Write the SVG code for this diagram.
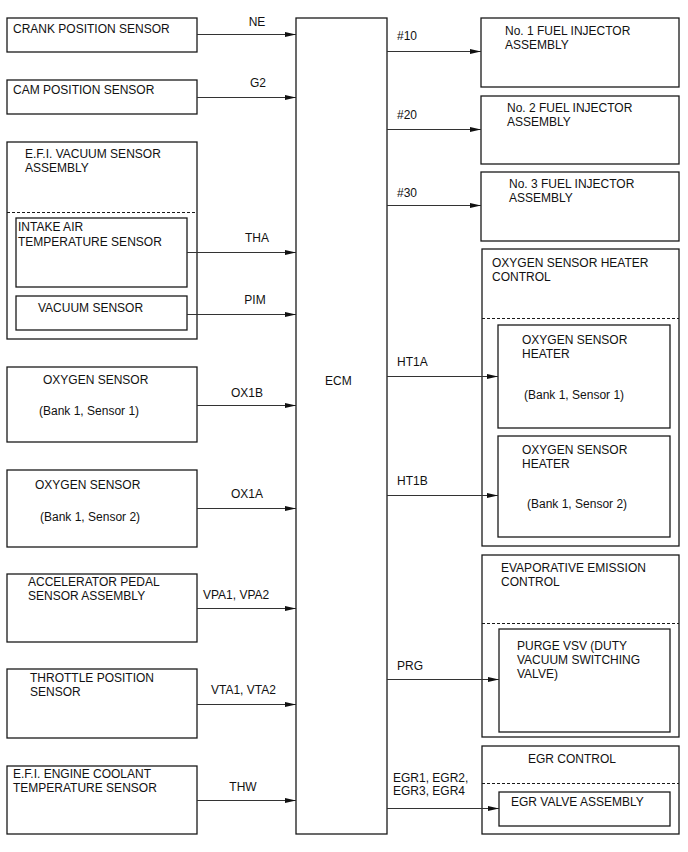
<svg xmlns="http://www.w3.org/2000/svg" width="688" height="852" viewBox="0 0 688 852">
<defs>
<marker id="ah" markerWidth="11" markerHeight="6" refX="11" refY="3" orient="auto" markerUnits="userSpaceOnUse">
<path d="M0,0.5 L11,3 L0,5.5 z" fill="#111"/>
</marker>
</defs>
<style>
.box{fill:#fff;stroke:#1a1a1a;stroke-width:1.3}
.dash{fill:none;stroke:#1a1a1a;stroke-width:1.2;stroke-dasharray:3 2}
.t{font-family:"Liberation Sans",Arial,sans-serif;font-size:12px;fill:#111}
.c{fill:none;stroke:#333;stroke-width:1.1;marker-end:url(#ah)}
</style>
<rect width="688" height="852" fill="#fff"/>

<g id="crank"><rect class="box" x="7" y="18" width="190" height="34"/><text class="t" x="13" y="33">CRANK POSITION SENSOR</text></g>
<g id="cam"><rect class="box" x="7" y="80" width="190" height="34"/><text class="t" x="13" y="94">CAM POSITION SENSOR</text></g>
<g id="efi-vacuum"><rect class="box" x="7" y="142" width="190" height="197"/><text class="t" x="25" y="158">E.F.I. VACUUM SENSOR</text><text class="t" x="25" y="172">ASSEMBLY</text><line class="dash" x1="7" y1="212.5" x2="197" y2="212.5"/></g>
<g id="intake-air"><rect class="box" x="16" y="218" width="171" height="69"/><text class="t" x="18" y="231">INTAKE AIR</text><text class="t" x="18" y="246">TEMPERATURE SENSOR</text></g>
<g id="vacuum"><rect class="box" x="16" y="296" width="171" height="34"/><text class="t" x="38" y="312">VACUUM SENSOR</text></g>
<g id="o2s1"><rect class="box" x="7" y="367" width="190" height="75"/><text class="t" x="43" y="384">OXYGEN SENSOR</text><text class="t" x="39" y="415">(Bank 1, Sensor 1)</text></g>
<g id="o2s2"><rect class="box" x="7" y="470" width="190" height="77"/><text class="t" x="35" y="489">OXYGEN SENSOR</text><text class="t" x="40" y="521">(Bank 1, Sensor 2)</text></g>
<g id="accel"><rect class="box" x="7" y="574" width="190" height="68"/><text class="t" x="28" y="586">ACCELERATOR PEDAL</text><text class="t" x="28" y="600">SENSOR ASSEMBLY</text></g>
<g id="throttle"><rect class="box" x="7" y="669" width="190" height="69"/><text class="t" x="30" y="682">THROTTLE POSITION</text><text class="t" x="30" y="696">SENSOR</text></g>
<g id="coolant"><rect class="box" x="7" y="766" width="190" height="68"/><text class="t" x="13" y="778">E.F.I. ENGINE COOLANT</text><text class="t" x="13" y="792">TEMPERATURE SENSOR</text></g>

<g id="ecm"><rect class="box" x="296" y="18" width="91" height="816"/><text class="t" x="325" y="385">ECM</text></g>

<g id="inj1"><rect class="box" x="481" y="18" width="198" height="69"/><text class="t" x="505" y="35">No. 1 FUEL INJECTOR</text><text class="t" x="505" y="49">ASSEMBLY</text></g>
<g id="inj2"><rect class="box" x="481" y="96" width="198" height="68"/><text class="t" x="507" y="112">No. 2 FUEL INJECTOR</text><text class="t" x="507" y="126">ASSEMBLY</text></g>
<g id="inj3"><rect class="box" x="481" y="172" width="198" height="69"/><text class="t" x="509" y="188">No. 3 FUEL INJECTOR</text><text class="t" x="509" y="202">ASSEMBLY</text></g>
<g id="o2-heater-control"><rect class="box" x="482" y="249" width="197" height="297"/><text class="t" x="492" y="267">OXYGEN SENSOR HEATER</text><text class="t" x="492" y="281">CONTROL</text><line class="dash" x1="482" y1="318.5" x2="679" y2="318.5"/></g>
<g id="heater1"><rect class="box" x="498" y="325" width="172" height="103"/><text class="t" x="522" y="344">OXYGEN SENSOR</text><text class="t" x="522" y="358">HEATER</text><text class="t" x="524" y="399">(Bank 1, Sensor 1)</text></g>
<g id="heater2"><rect class="box" x="498" y="436" width="172" height="101"/><text class="t" x="522" y="454">OXYGEN SENSOR</text><text class="t" x="522" y="468">HEATER</text><text class="t" x="527" y="508">(Bank 1, Sensor 2)</text></g>
<g id="evap"><rect class="box" x="482" y="555" width="197" height="182"/><text class="t" x="501" y="572">EVAPORATIVE EMISSION</text><text class="t" x="501" y="586">CONTROL</text><line class="dash" x1="482" y1="623.5" x2="679" y2="623.5"/></g>
<g id="purge"><rect class="box" x="499" y="629" width="171" height="103"/><text class="t" x="517" y="650">PURGE VSV (DUTY</text><text class="t" x="517" y="664">VACUUM SWITCHING</text><text class="t" x="517" y="678">VALVE)</text></g>
<g id="egr-control"><rect class="box" x="482" y="746" width="197" height="88"/><text class="t" x="528" y="763">EGR CONTROL</text><line class="dash" x1="482" y1="783.5" x2="679" y2="783.5"/></g>
<g id="egr-valve"><rect class="box" x="499" y="792" width="171" height="34"/><text class="t" x="511" y="806">EGR VALVE ASSEMBLY</text></g>

<g id="connectors">
<line class="c" x1="197" y1="34.5" x2="296" y2="34.5"/>
<line class="c" x1="197" y1="97.5" x2="296" y2="97.5"/>
<line class="c" x1="187" y1="252.5" x2="296" y2="252.5"/>
<line class="c" x1="187" y1="314.5" x2="296" y2="314.5"/>
<line class="c" x1="197" y1="405.5" x2="296" y2="405.5"/>
<line class="c" x1="197" y1="508.5" x2="296" y2="508.5"/>
<line class="c" x1="197" y1="608.5" x2="296" y2="608.5"/>
<line class="c" x1="197" y1="704.5" x2="296" y2="704.5"/>
<line class="c" x1="197" y1="800.5" x2="296" y2="800.5"/>
<line class="c" x1="387" y1="51.5" x2="481" y2="51.5"/>
<line class="c" x1="387" y1="129.5" x2="481" y2="129.5"/>
<line class="c" x1="387" y1="205.5" x2="481" y2="205.5"/>
<line class="c" x1="387" y1="376.5" x2="498" y2="376.5"/>
<line class="c" x1="387" y1="495.5" x2="498" y2="495.5"/>
<line class="c" x1="387" y1="679.5" x2="499" y2="679.5"/>
<line class="c" x1="387" y1="808.5" x2="499" y2="808.5"/>
<text class="t" x="257" y="26" text-anchor="middle">NE</text>
<text class="t" x="258" y="87" text-anchor="middle">G2</text>
<text class="t" x="257" y="242" text-anchor="middle">THA</text>
<text class="t" x="255" y="304" text-anchor="middle">PIM</text>
<text class="t" x="247" y="397" text-anchor="middle">OX1B</text>
<text class="t" x="247" y="498" text-anchor="middle">OX1A</text>
<text class="t" x="203" y="599">VPA1, VPA2</text>
<text class="t" x="211" y="694">VTA1, VTA2</text>
<text class="t" x="243" y="791" text-anchor="middle">THW</text>
<text class="t" x="397" y="40">#10</text>
<text class="t" x="397" y="119">#20</text>
<text class="t" x="397" y="197">#30</text>
<text class="t" x="397" y="366">HT1A</text>
<text class="t" x="397" y="485">HT1B</text>
<text class="t" x="397" y="670">PRG</text>
<text class="t" x="393" y="782">EGR1, EGR2,</text>
<text class="t" x="393" y="795">EGR3, EGR4</text>
</g>
</svg>
